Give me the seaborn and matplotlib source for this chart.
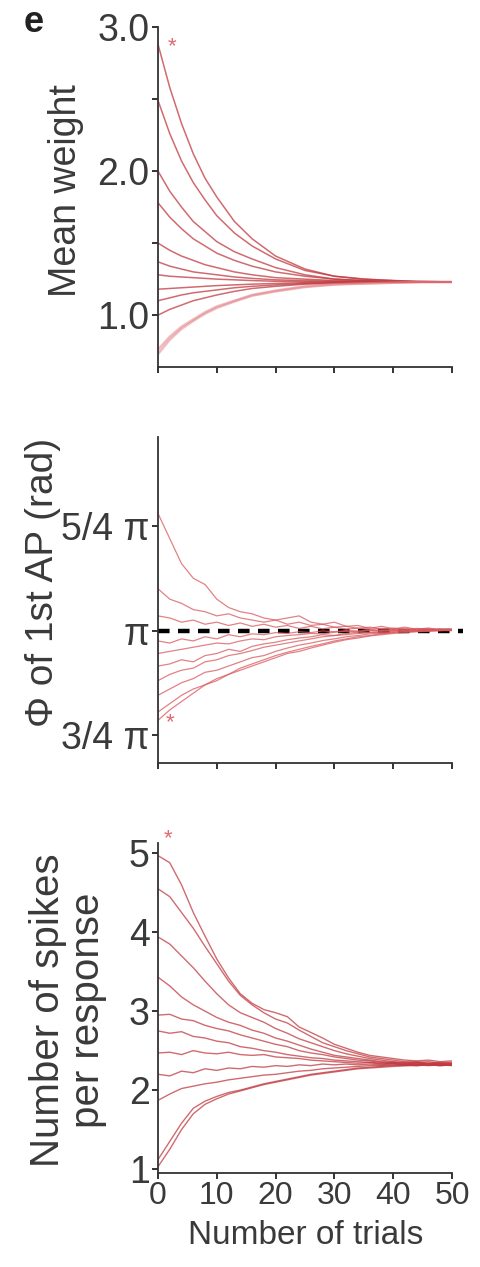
import numpy as np
import pandas as pd
import matplotlib
matplotlib.use("Agg")
import matplotlib.pyplot as plt
import seaborn as sns

# ---------------- data ----------------
# Mean synaptic weight versus trial number (smooth relaxation curves)
weight_trials = [0, 2, 4, 6, 8, 10, 13, 16, 20, 25, 30, 35, 40, 45, 50]
weight_a = [2.88, 2.58, 2.33, 2.12, 1.95, 1.82, 1.65, 1.53, 1.41, 1.32, 1.27, 1.25, 1.24, 1.235, 1.23]
weight_b = [2.49, 2.26, 2.07, 1.92, 1.80, 1.69, 1.57, 1.48, 1.39, 1.31, 1.27, 1.25, 1.24, 1.23, 1.23]
weight_c = [2.00, 1.86, 1.75, 1.65, 1.58, 1.51, 1.44, 1.39, 1.33, 1.28, 1.25, 1.24, 1.235, 1.23, 1.23]
weight_d = [1.78, 1.68, 1.60, 1.53, 1.48, 1.43, 1.38, 1.34, 1.30, 1.27, 1.25, 1.24, 1.23, 1.23, 1.23]
weight_e = [1.50, 1.45, 1.41, 1.38, 1.35, 1.33, 1.30, 1.28, 1.26, 1.25, 1.24, 1.235, 1.23, 1.23, 1.23]
weight_f = [1.37, 1.34, 1.32, 1.30, 1.29, 1.28, 1.265, 1.255, 1.245, 1.24, 1.235, 1.23, 1.23, 1.23, 1.23]
weight_g = [1.28, 1.27, 1.265, 1.26, 1.255, 1.25, 1.245, 1.24, 1.235, 1.232, 1.23, 1.23, 1.23, 1.23, 1.23]
weight_h = [1.18, 1.185, 1.19, 1.195, 1.20, 1.205, 1.21, 1.215, 1.22, 1.225, 1.228, 1.23, 1.23, 1.23, 1.23]
weight_i = [1.10, 1.12, 1.14, 1.155, 1.165, 1.175, 1.19, 1.20, 1.21, 1.22, 1.225, 1.228, 1.23, 1.23, 1.23]
weight_j = [1.00, 1.04, 1.07, 1.10, 1.12, 1.14, 1.165, 1.185, 1.20, 1.215, 1.22, 1.225, 1.23, 1.23, 1.23]
weight_k = [0.76, 0.85, 0.92, 0.97, 1.02, 1.06, 1.10, 1.14, 1.17, 1.20, 1.215, 1.22, 1.225, 1.23, 1.23]
weight_l = [0.73, 0.83, 0.905, 0.96, 1.01, 1.05, 1.095, 1.135, 1.165, 1.195, 1.212, 1.22, 1.225, 1.23, 1.23]
weight_curves = [weight_a, weight_b, weight_c, weight_d, weight_e, weight_f,
                 weight_g, weight_h, weight_i, weight_j, weight_k, weight_l]

# Phase of the first action potential (in units of pi)
trials = list(range(0, 51, 2))
phase_1 = [1.28, 1.22, 1.16, 1.125, 1.11, 1.075, 1.055, 1.045, 1.04, 1.03, 1.025, 1.03, 1.035,
           1.02, 1.015, 1.02, 1.01, 1.012, 1.005, 1.01, 1.004, 1.008, 1.003, 1.006, 1.002, 1.004]
phase_2 = [1.10, 1.075, 1.065, 1.05, 1.045, 1.035, 1.04, 1.03, 1.025, 1.02, 1.025, 1.015, 1.02,
           1.012, 1.015, 1.008, 1.01, 1.005, 1.008, 1.003, 1.006, 1.002, 1.005, 1.003, 1.004, 1.002]
phase_3 = [1.035, 1.03, 1.02, 1.025, 1.015, 1.02, 1.012, 1.018, 1.01, 1.015, 1.008, 1.012, 1.005,
           1.01, 1.004, 1.008, 1.003, 1.006, 1.002, 1.005, 1.003, 1.004, 1.002, 1.003, 1.002, 1.003]
phase_4 = [0.975, 0.97, 0.98, 0.975, 0.985, 0.98, 0.99, 0.985, 0.992, 0.99, 0.995, 0.993, 0.997,
           0.995, 0.999, 0.997, 1.0, 0.999, 1.001, 1.0, 1.002, 1.001, 1.002, 1.001, 1.002, 1.002]
phase_5 = [0.945, 0.95, 0.955, 0.96, 0.965, 0.97, 0.968, 0.975, 0.98, 0.978, 0.985, 0.988, 0.99,
           0.993, 0.992, 0.996, 0.998, 0.997, 1.0, 0.999, 1.001, 1.0, 1.002, 1.001, 1.002, 1.001]
phase_6 = [0.915, 0.92, 0.93, 0.925, 0.94, 0.945, 0.955, 0.95, 0.962, 0.968, 0.972, 0.978, 0.982,
           0.985, 0.99, 0.988, 0.993, 0.996, 0.995, 0.998, 1.0, 0.999, 1.001, 1.0, 1.001, 1.002]
phase_7 = [0.88, 0.895, 0.905, 0.91, 0.925, 0.93, 0.94, 0.945, 0.952, 0.96, 0.965, 0.97, 0.975,
           0.98, 0.985, 0.988, 0.99, 0.993, 0.996, 0.995, 0.998, 1.0, 0.999, 1.001, 1.0, 1.001]
phase_8 = [0.845, 0.86, 0.875, 0.885, 0.9, 0.905, 0.915, 0.925, 0.935, 0.94, 0.95, 0.958, 0.965,
           0.97, 0.976, 0.98, 0.985, 0.988, 0.992, 0.994, 0.996, 0.998, 0.999, 1.0, 1.0, 1.001]
phase_9 = [0.805, 0.825, 0.845, 0.86, 0.87, 0.885, 0.895, 0.905, 0.915, 0.925, 0.935, 0.945, 0.95,
           0.958, 0.965, 0.972, 0.978, 0.982, 0.987, 0.99, 0.993, 0.995, 0.997, 0.998, 1.0, 1.0]
phase_10 = [0.785, 0.81, 0.83, 0.85, 0.87, 0.88, 0.895, 0.91, 0.92, 0.93, 0.94, 0.948, 0.955,
            0.962, 0.968, 0.975, 0.98, 0.985, 0.988, 0.992, 0.995, 0.997, 0.998, 0.999, 1.0, 1.0]
phase_curves = [phase_1, phase_2, phase_3, phase_4, phase_5, phase_6,
                phase_7, phase_8, phase_9, phase_10]

# Number of spikes per response
spikes_1 = [4.97, 4.88, 4.60, 4.25, 3.95, 3.66, 3.42, 3.22, 3.10, 3.02, 2.98, 2.93, 2.80,
            2.73, 2.66, 2.58, 2.53, 2.48, 2.44, 2.42, 2.40, 2.38, 2.37, 2.38, 2.36, 2.37]
spikes_2 = [4.55, 4.45, 4.25, 4.05, 3.82, 3.60, 3.38, 3.20, 3.08, 2.98, 2.90, 2.85, 2.76,
            2.68, 2.60, 2.55, 2.50, 2.46, 2.42, 2.40, 2.38, 2.36, 2.35, 2.36, 2.34, 2.35]
spikes_3 = [3.94, 3.85, 3.70, 3.55, 3.38, 3.22, 3.08, 2.98, 2.92, 2.86, 2.78, 2.72, 2.65,
            2.60, 2.55, 2.50, 2.46, 2.43, 2.40, 2.38, 2.36, 2.35, 2.36, 2.34, 2.35, 2.34]
spikes_4 = [3.43, 3.32, 3.18, 3.08, 3.00, 2.92, 2.86, 2.82, 2.76, 2.72, 2.66, 2.62, 2.57,
            2.52, 2.48, 2.44, 2.42, 2.40, 2.38, 2.36, 2.35, 2.34, 2.35, 2.33, 2.34, 2.33]
spikes_5 = [2.95, 2.96, 2.90, 2.88, 2.82, 2.78, 2.75, 2.70, 2.66, 2.62, 2.58, 2.55, 2.50,
            2.47, 2.45, 2.42, 2.40, 2.38, 2.37, 2.35, 2.35, 2.34, 2.33, 2.34, 2.33, 2.33]
spikes_6 = [2.75, 2.72, 2.74, 2.68, 2.66, 2.62, 2.60, 2.55, 2.53, 2.50, 2.48, 2.45, 2.43,
            2.41, 2.40, 2.38, 2.37, 2.36, 2.35, 2.34, 2.34, 2.33, 2.34, 2.33, 2.32, 2.33]
spikes_7 = [2.47, 2.48, 2.45, 2.50, 2.47, 2.46, 2.48, 2.45, 2.44, 2.45, 2.42, 2.41, 2.40,
            2.38, 2.37, 2.36, 2.35, 2.34, 2.35, 2.33, 2.34, 2.32, 2.33, 2.32, 2.33, 2.32]
spikes_8 = [2.20, 2.18, 2.24, 2.22, 2.27, 2.25, 2.28, 2.27, 2.30, 2.29, 2.31, 2.30, 2.32,
            2.31, 2.33, 2.32, 2.33, 2.32, 2.33, 2.32, 2.33, 2.32, 2.32, 2.33, 2.32, 2.32]
spikes_9 = [1.87, 1.95, 2.02, 2.05, 2.08, 2.10, 2.13, 2.15, 2.17, 2.19, 2.20, 2.22, 2.24,
            2.25, 2.27, 2.28, 2.29, 2.30, 2.31, 2.31, 2.32, 2.32, 2.31, 2.32, 2.31, 2.32]
spikes_10 = [1.12, 1.35, 1.58, 1.77, 1.86, 1.92, 1.97, 2.00, 2.04, 2.08, 2.11, 2.14, 2.17,
             2.20, 2.22, 2.24, 2.26, 2.28, 2.29, 2.30, 2.31, 2.31, 2.32, 2.31, 2.32, 2.31]
spikes_11 = [1.03, 1.25, 1.50, 1.70, 1.82, 1.89, 1.95, 1.99, 2.03, 2.07, 2.10, 2.13, 2.16,
             2.19, 2.21, 2.23, 2.25, 2.27, 2.28, 2.29, 2.30, 2.31, 2.31, 2.32, 2.31, 2.32]
spike_curves = [spikes_1, spikes_2, spikes_3, spikes_4, spikes_5, spikes_6,
                spikes_7, spikes_8, spikes_9, spikes_10, spikes_11]

# Starred example cells (trial, value)
star_weight = (2.3, 2.86)
star_phase = (2.0, 0.78)
star_spikes = (1.7, 5.19)

x_ticks = [0, 10, 20, 30, 40, 50]
x_ticklabels = ["0", "10", "20", "30", "40", "50"]
phase_ticks = [0.75, 1.0, 1.25]
phase_ticklabels = ["3/4 π", "π", "5/4 π"]

# ---------------- style ----------------
sns.set_theme(style="ticks")
plt.rcParams["font.family"] = ["Liberation Sans", "DejaVu Sans"]
ink = "#333333"
plt.rcParams.update({
    "axes.edgecolor": ink,
    "axes.linewidth": 1.3,
    "xtick.color": ink,
    "ytick.color": ink,
    "xtick.labelcolor": "#3a3a3a",
    "ytick.labelcolor": "#3a3a3a",
    "xtick.major.size": 4,
    "ytick.major.size": 4,
    "xtick.major.width": 1.4,
    "ytick.major.width": 1.4,
    "ytick.minor.size": 4,
    "ytick.minor.width": 1.4,
    "xtick.major.pad": 2,
    "ytick.major.pad": 2,
    "axes.labelcolor": "#3a3a3a",
})

curve_color = "#c03a40"
fs_ytick = 27
fs_xtick = 23
fs_label = 28

W, H = 480, 1267
fig = plt.figure(figsize=(W / 100, H / 100), dpi=100)
fig.patch.set_facecolor("white")


def make_axes(left_px, right_px, top_px, bottom_px):
    return fig.add_axes([left_px / W, 1 - bottom_px / H,
                         (right_px - left_px) / W, (bottom_px - top_px) / H])


def long_form(xs, curves):
    rows = []
    for k, ys in enumerate(curves):
        for x, y in zip(xs, ys):
            rows.append({"trial": x, "value": y, "cell": k})
    return pd.DataFrame(rows)


def draw_curves(ax, xs, curves, lw, alpha, color):
    df = long_form(xs, curves)
    sns.lineplot(data=df, x="trial", y="value", units="cell", estimator=None,
                 color=color, lw=lw, alpha=alpha, ax=ax, legend=False)


def style_axes(ax, show_xlabels):
    sns.despine(ax=ax)
    ax.set_xlim(0, 50)
    ax.set_xticks(x_ticks)
    if show_xlabels:
        ax.set_xticklabels(x_ticklabels, fontsize=fs_xtick)
    else:
        ax.set_xticklabels([])
    ax.tick_params(axis="y", labelsize=fs_ytick)
    ax.set_xlabel("")
    ax.set_ylabel("")


# ---- panel 1: mean weight ----
ax1 = make_axes(158, 452, 27, 367)
draw_curves(ax1, weight_trials, weight_curves[:-2], lw=1.1, alpha=0.75, color=curve_color)
draw_curves(ax1, weight_trials, weight_curves[-2:], lw=1.8, alpha=0.5, color="#e07a80")
style_axes(ax1, False)
ax1.set_ylim(0.64, 3.0)
ax1.set_yticks([1.0, 2.0, 3.0])
ax1.set_yticklabels(["1.0", "2.0", "3.0"])
ax1.set_yticks([1.5, 2.5], minor=True)
ax1.set_ylabel("Mean weight", fontsize=fs_label - 1)
ax1.yaxis.set_label_coords(-0.313, 0.52)
ax1.yaxis.label.set_verticalalignment("center")
ax1.text(*star_weight, "*", color="#e06a70", fontsize=16, ha="center", va="center")

# ---- panel 2: phase of first AP ----
ax2 = make_axes(158, 452, 437, 763)
draw_curves(ax2, trials, phase_curves, lw=0.9, alpha=0.75, color="#d9585d")
style_axes(ax2, False)
ax2.set_ylim(0.683, 1.463)
ax2.set_yticks(phase_ticks)
ax2.set_yticklabels(phase_ticklabels)
ax2.plot([0, 51.8], [1.0, 1.0], color="black", lw=3.2, ls=(0, (2.6, 1.9)),
         clip_on=False, zorder=1.5)
ax2.set_ylabel("Φ of 1st AP (rad)", fontsize=fs_label)
ax2.yaxis.set_label_coords(-0.391, 0.555)
ax2.yaxis.label.set_verticalalignment("center")
ax2.text(*star_phase, "*", color="#e06a70", fontsize=16, ha="center", va="center")

# ---- panel 3: spikes per response ----
ax3 = make_axes(158, 452, 843, 1173)
draw_curves(ax3, trials, spike_curves, lw=1.0, alpha=0.75, color=curve_color)
style_axes(ax3, True)
ax3.set_ylim(0.95, 5.13)
ax3.set_yticks([1, 2, 3, 4, 5])
ax3.set_yticklabels(["1", "2", "3", "4", "5"])
ax3.set_ylabel("Number of spikes\nper response", fontsize=fs_label + 1, linespacing=1.05)
ax3.yaxis.set_label_coords(-0.306, 0.494)
ax3.yaxis.label.set_verticalalignment("center")
ax3.set_xlabel("Number of trials", fontsize=24)
ax3.xaxis.set_label_coords(0.503, -0.19)
ax3.xaxis.label.set_verticalalignment("center")
ax3.text(*star_spikes, "*", color="#e06a70", fontsize=16, ha="center", va="center",
         clip_on=False)

fig.text(34 / W, 1 - 22 / H, "e", fontsize=26, fontweight="bold",
         ha="center", va="center", color="#222222")

fig.savefig("out.png", dpi=100, facecolor="white")
